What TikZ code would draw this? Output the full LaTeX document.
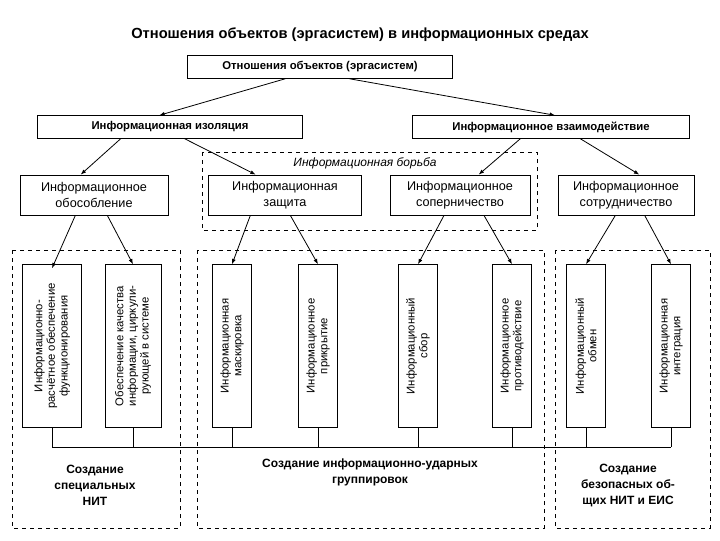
\documentclass[tikz,border=0pt]{standalone}
\usepackage{fontspec}
\setmainfont{Liberation Sans}
\usetikzlibrary{arrows.meta}
\tikzset{
  box/.style={draw, semithick, fill=white, inner sep=1pt, align=center, font=\fontsize{9.5}{12}\selectfont},
  vbox/.style={box, rotate=90, minimum width=122pt, font=\fontsize{8.5}{9.5}\selectfont},
  group/.style={draw, dashed, thin},
  arr/.style={-{Latex[length=4pt,width=3pt]}, semithick},
}
\begin{document}
\begin{tikzpicture}[x=0.75pt,y=-0.75pt]
    \useasboundingbox (0,0) rectangle (720,540);

    % Dashed groups
    \draw[group] (202,152) rectangle (537,230);
    \node[font=\itshape\fontsize{9}{10}\selectfont] at (365,163) {Информационная борьба};
    \draw[group] (12,250) rectangle (180,528);
    \draw[group] (197,250) rectangle (544,528);
    \draw[group] (555,250) rectangle (710,528);

    % Title and upper levels
    \node[font=\bfseries\fontsize{11}{13}\selectfont] at (360,35) {Отношения объектов (эргасистем) в информационных средах};
    \node[box, font=\bfseries\fontsize{8.5}{10}\selectfont, minimum width=199pt, minimum height=17pt] (root) at (320,67) {Отношения объектов (эргасистем)};
    \node[box, font=\bfseries\fontsize{8.5}{10}\selectfont, minimum width=199pt, minimum height=17pt] (iso) at (170,127) {Информационная изоляция};
    \node[box, font=\bfseries\fontsize{8.5}{10}\selectfont, minimum width=208pt, minimum height=17pt] (inter) at (551,127) {Информационное взаимодействие};

    \node[box, minimum width=111pt, minimum height=30pt] (obos) at (94,195) {Информационное\\обособление};
    \node[box, minimum width=115pt, minimum height=30pt] (zash) at (285,195) {Информационная\\защита};
    \node[box, minimum width=105pt, minimum height=30pt] (sop) at (460,195) {Информационное\\соперничество};
    \node[box, minimum width=102pt, minimum height=30pt] (sotr) at (626,195) {Информационное\\сотрудничество};

    % Vertical boxes
    \node[vbox, minimum height=44pt] (v1) at (52,346) {Информационно-\\расчётное обеспечение\\функционирования};
    \node[vbox, minimum height=42pt] (v2) at (133,346) {Обеспечение качества\\информации, циркули-\\рующей в системе};
    \node[vbox, minimum height=29pt] (v3) at (232,346) {Информационная\\маскировка};
    \node[vbox, minimum height=29pt] (v4) at (318,346) {Информационное\\прикрытие};
    \node[vbox, minimum height=29pt] (v5) at (418,346) {Информационный\\сбор};
    \node[vbox, minimum height=29pt] (v6) at (512,346) {Информационное\\противодействие};
    \node[vbox, minimum height=29pt] (v7) at (586,346) {Информационный\\обмен};
    \node[vbox, minimum height=29pt] (v8) at (671,346) {Информационная\\интеграция};

    % Arrows
    \draw[arr] ([xshift=-26pt]root.south) -- ([xshift=-8pt]iso.north);
    \draw[arr] ([xshift=22pt]root.south) -- ([xshift=3pt]inter.north);
    \draw[arr] ([xshift=-37pt]iso.south) -- ([xshift=-10pt]obos.north);
    \draw[arr] ([xshift=11pt]iso.south) -- ([xshift=-22pt]zash.north);
    \draw[arr] ([xshift=-23pt]inter.south) -- ([xshift=14pt]sop.north);
    \draw[arr] ([xshift=22pt]inter.south) -- ([xshift=10pt]sotr.north);
    \draw[arr] ([xshift=-14pt]obos.south) -- ([yshift=-3pt]v1.east);
    \draw[arr] ([xshift=10pt]obos.south) -- (v2.east);
    \draw[arr] ([xshift=-26pt]zash.south) -- (v3.east);
    \draw[arr] ([xshift=4pt]zash.south) -- (v4.east);
    \draw[arr] ([xshift=-12pt]sop.south) -- (v5.east);
    \draw[arr] ([xshift=18pt]sop.south) -- (v6.east);
    \draw[arr] ([xshift=-8pt]sotr.south) -- (v7.east);
    \draw[arr] ([xshift=14pt]sotr.south) -- (v8.east);

    % Bottom bus
    \coordinate (busL) at (52,447);
    \coordinate (busR) at (671,447);
    \draw (busL) -- (busR);
    \foreach \v in {v1,v2,v3,v4,v5,v6,v7,v8}
        \draw (\v.west) -- (\v.west |- busL);

    % Results
    \node[font=\bfseries\fontsize{9}{12}\selectfont, align=center] (r1) at (95,485) {Создание\\специальных\\НИТ};
    \node[font=\bfseries\fontsize{9}{12}\selectfont, align=center] (r2) at (370,472) {Создание информационно-ударных\\группировок};
    \node[font=\bfseries\fontsize{9}{12}\selectfont, align=center] (r3) at (628,485) {Создание\\безопасных об-\\щих НИТ и ЕИС};
\end{tikzpicture}
\end{document}
